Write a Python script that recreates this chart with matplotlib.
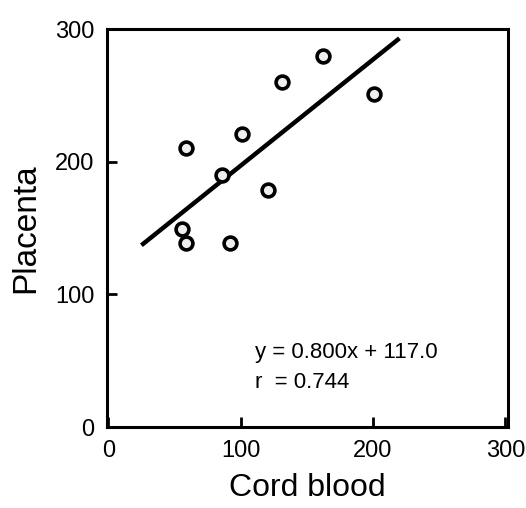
#Importing libraries
import numpy as np
import matplotlib.pyplot as plt

plt.rcParams['font.family'] = ['Liberation Sans', 'DejaVu Sans']

#Data
cord_blood = [56, 59, 59, 86, 92, 101, 121, 131, 162, 201]
placenta = [149, 139, 210, 190, 139, 221, 179, 260, 280, 251]
slope = 0.800
intercept = 117.0
r_value = 0.744
fit_range = [25, 220]
ticks = [0, 100, 200, 300]

fig = plt.figure(figsize=(5.26, 5.08), dpi=100)
ax = fig.add_axes([0.2034, 0.1594, 0.7624, 0.7835])

#Regression line
fit_x = np.array(fit_range)
ax.plot(fit_x, slope * fit_x + intercept, color='black', linewidth=3.2, solid_capstyle='butt')

#Data points
ax.scatter(cord_blood, placenta, s=85, facecolor='#eeeeee', edgecolor='black', linewidth=2.6, zorder=3)

ax.text(0.368, 0.188, 'y = %.3fx + %.1f' % (slope, intercept), transform=ax.transAxes,
        fontsize=16, va='center', ha='left')
ax.text(0.368, 0.113, 'r  = %.3f' % r_value, transform=ax.transAxes,
        fontsize=16, va='center', ha='left')

ax.set_xlim(-1, 302)
ax.set_ylim(0, 300)
ax.set_xticks(ticks)
ax.set_yticks(ticks)
ax.tick_params(direction='in', length=7, width=2, labelsize=17, pad=9)
for s in ax.spines.values():
    s.set_linewidth(2.2)

ax.set_xlabel('Cord blood', fontsize=23, labelpad=8)
ax.set_ylabel('Placenta', fontsize=24, labelpad=10)

fig.savefig('out.png', dpi=100)
